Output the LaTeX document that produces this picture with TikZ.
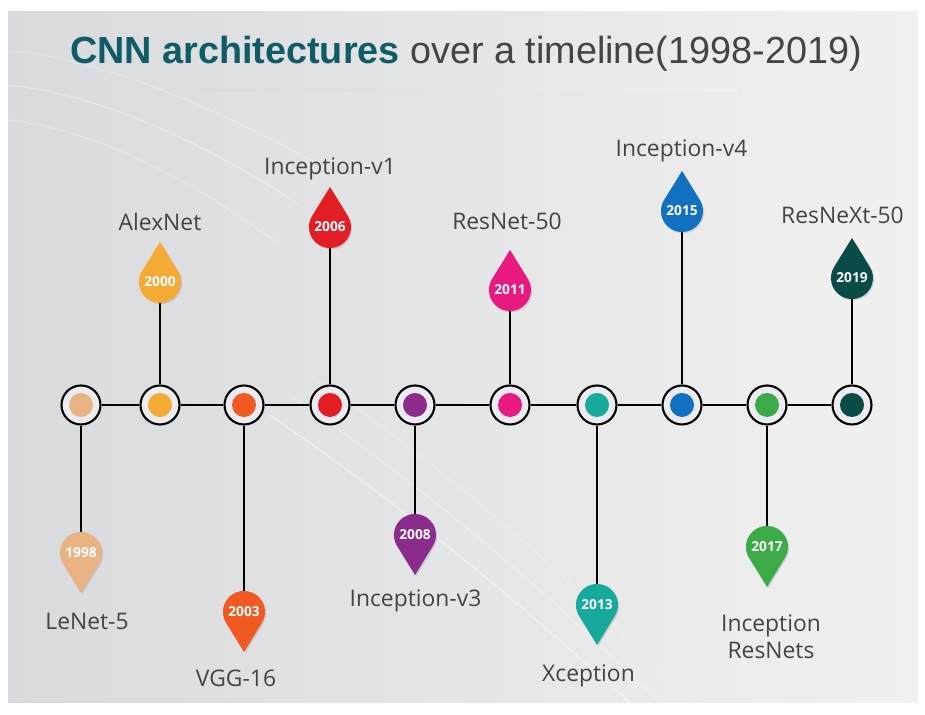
\documentclass[tikz,border=0pt]{standalone}
\usepackage{fontspec}
\setmainfont{Open Sans}
\newfontfamily\titlefont{Liberation Sans}
\usetikzlibrary{shadows}

\definecolor{titleteal}{HTML}{0F5C66}
\definecolor{textgray}{HTML}{444444}
\definecolor{bgdark}{HTML}{D9DADD}
\definecolor{bglight}{HTML}{F1F1F1}
\definecolor{ringfill}{HTML}{ECECF0}
\definecolor{y1998}{HTML}{E9B383}
\definecolor{y2000}{HTML}{F6AA36}
\definecolor{y2003}{HTML}{F05A22}
\definecolor{y2006}{HTML}{E21D24}
\definecolor{y2008}{HTML}{8B2B8B}
\definecolor{y2011}{HTML}{E8197F}
\definecolor{y2013}{HTML}{17A99B}
\definecolor{y2015}{HTML}{1171C0}
\definecolor{y2017}{HTML}{3BAA47}
\definecolor{y2019}{HTML}{084B47}

\begin{document}
\begin{tikzpicture}[ netname/.style={font={\fontsize{13}{15.2}\selectfont},
        text=textgray,align=center,anchor=base},
    pin/.style={circle,minimum size=0.84cm,inner sep=0pt,text=white,
        font={\fontsize{7.8}{8}\selectfont\bfseries}},
    ring/.style={circle,draw,line width=1.2pt,fill=ringfill,
        minimum size=0.78cm,inner sep=0pt,
        path picture={\fill[#1] (path picture bounding box.center) circle (0.24);}},
    stem/.style={line width=1.2pt},
    soft/.style={drop shadow={shadow xshift=0.7pt,shadow yshift=-0.7pt,opacity=0.25}},
    dropup/.style={insert path={-- ++(238.3:0.68)
        arc[start angle=148,end angle=392,radius=0.42] -- cycle}},
    dropdown/.style={insert path={-- ++(121.7:0.68)
        arc[start angle=212,end angle=-32,radius=0.42] -- cycle}}]
\useasboundingbox (0,0) rectangle (18.5,14.3);

% background
\fill[white] (0,0) rectangle (18.5,14.3);
\shade[left color=bgdark,right color=bglight] (0.16,0.24) rectangle (18.36,14.06);
\begin{scope}
\clip (0.16,0.24) rectangle (18.36,14.06);
\draw[white,opacity=0.35,line width=0.6pt] (0.16,12.6) .. controls (2,12.4) and (4,11.5) .. (6,10.2);
\draw[white,opacity=0.3,line width=0.5pt] (0.16,11.9) .. controls (2,11.7) and (4,10.6) .. (5.6,9.4);
\draw[white,opacity=0.3,line width=0.5pt] (0.16,13.3) .. controls (2,13.1) and (4,12.3) .. (6.4,11.0);
\draw[white,opacity=0.4,line width=0.9pt] (5.4,6.0) .. controls (8,4.2) and (10,2.6) .. (12.6,0.24);
\draw[white,opacity=0.3,line width=0.6pt] (5.8,6.4) .. controls (8.4,4.6) and (10.6,2.8) .. (13.2,0.24);
\draw[white,opacity=0.25,line width=0.5pt] (6.2,6.8) .. controls (8.8,5.0) and (11.2,3.0) .. (13.8,0.24);
\end{scope}

% title
\node[anchor=base,text=textgray,font={\titlefont\fontsize{21.5}{24}\selectfont}]
    (title) at (9.32,13.02) {{\bfseries\color{titleteal}CNN architectures} over a timeline(1998-2019)};
\shade[left color=bgdark,middle color=gray!75,right color=bglight] (4.0,12.47) rectangle (14.74,12.52);

% timeline
\node[ring=y1998] (t1) at (1.62,6.20) {};
\node[ring=y2000] (t2) at (3.20,6.20) {};
\node[ring=y2003] (t3) at (4.88,6.20) {};
\node[ring=y2006] (t4) at (6.60,6.20) {};
\node[ring=y2008] (t5) at (8.30,6.20) {};
\node[ring=y2011] (t6) at (10.20,6.20) {};
\node[ring=y2013] (t7) at (11.94,6.20) {};
\node[ring=y2015] (t8) at (13.64,6.20) {};
\node[ring=y2017] (t9) at (15.34,6.20) {};
\node[ring=y2019] (t10) at (17.04,6.20) {};
\draw[stem] (t1) -- (t2) -- (t3) -- (t4) -- (t5) -- (t6) -- (t7) -- (t8) -- (t9) -- (t10);

% pins above
\fill[y2000,soft] (3.20,9.46) [dropup];
\node[pin] (p2000) at (3.20,8.66) {2000};
\fill[y2006,soft] (6.60,10.56) [dropup];
\node[pin] (p2006) at (6.60,9.76) {2006};
\fill[y2011,soft] (10.20,9.30) [dropup];
\node[pin] (p2011) at (10.20,8.50) {2011};
\fill[y2015,soft] (13.64,10.88) [dropup];
\node[pin] (p2015) at (13.64,10.08) {2015};
\fill[y2019,soft] (17.04,9.54) [dropup];
\node[pin] (p2019) at (17.04,8.74) {2019};

% pins below
\fill[y1998,soft] (1.62,2.44) [dropdown];
\node[pin] (p1998) at (1.62,3.24) {1998};
\fill[y2003,soft] (4.88,1.26) [dropdown];
\node[pin] (p2003) at (4.88,2.06) {2003};
\fill[y2008,soft] (8.30,2.80) [dropdown];
\node[pin] (p2008) at (8.30,3.60) {2008};
\fill[y2013,soft] (11.94,1.40) [dropdown];
\node[pin] (p2013) at (11.94,2.20) {2013};
\fill[y2017,soft] (15.34,2.56) [dropdown];
\node[pin] (p2017) at (15.34,3.36) {2017};

\draw[stem] (p1998) -- (t1);
\draw[stem] (p2000) -- (t2);
\draw[stem] (p2003) -- (t3);
\draw[stem] (p2006) -- (t4);
\draw[stem] (p2008) -- (t5);
\draw[stem] (p2011) -- (t6);
\draw[stem] (p2013) -- (t7);
\draw[stem] (p2015) -- (t8);
\draw[stem] (p2017) -- (t9);
\draw[stem] (p2019) -- (t10);

% names
\node[netname] (lenet) at (1.74,1.70) {LeNet-5};
\node[netname] (alexnet) at (3.20,9.68) {AlexNet};
\node[netname] (vgg) at (4.72,0.57) {VGG-16};
\node[netname] (incv1) at (6.60,10.80) {Inception-v1};
\node[netname] (incv3) at (8.31,2.17) {Inception-v3};
\node[netname] (resnet) at (10.14,9.70) {ResNet-50};
\node[netname] (xception) at (11.77,0.67) {Xception};
\node[netname] (incv4) at (13.63,11.17) {Inception-v4};
\node[netname] (incres) at (15.42,1.13) {Inception\\ResNets};
\node[netname] (resnext) at (16.85,9.83) {ResNeXt-50};
\end{tikzpicture}
\end{document}
